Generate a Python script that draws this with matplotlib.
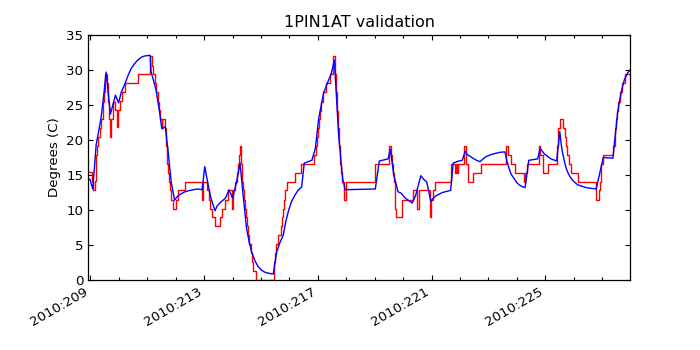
import matplotlib
matplotlib.use("Agg")
import matplotlib.pyplot as plt
from matplotlib.ticker import FixedLocator, MultipleLocator, FuncFormatter

# model (blue): day of year 2010, degrees C
model_days = [208.91, 208.98, 209.08, 209.20, 209.37, 209.47, 209.55, 209.70, 209.88, 209.99,
              210.08, 210.20, 210.32, 210.43, 210.55, 210.66, 210.78, 210.90, 211.00, 211.10,
              211.13, 211.31, 211.43, 211.51, 211.63, 211.72, 211.84, 211.96, 212.05, 212.14,
              212.32, 212.50, 212.78, 212.93, 213.02, 213.14, 213.23, 213.38, 213.46, 213.55,
              213.75, 213.87, 214.00, 214.14, 214.26, 214.37, 214.49, 214.58, 214.67, 214.78,
              214.90, 215.02, 215.14, 215.28, 215.43, 215.55, 215.66, 215.78, 215.87, 215.96,
              216.07, 216.19, 216.30, 216.43, 216.52, 216.79, 216.91, 217.03, 217.20, 217.38,
              217.46, 217.58, 217.73, 217.87, 217.96, 219.02, 219.16, 219.47, 219.55, 219.67,
              219.82, 219.93, 220.07, 220.32, 220.44, 220.62, 220.72, 220.83, 220.97, 221.14,
              221.38, 221.67, 221.76, 221.96, 222.08, 222.18, 222.26, 222.38, 222.53, 222.70,
              222.90, 223.08, 223.26, 223.42, 223.58, 223.65, 223.72, 223.80, 223.90, 224.00,
              224.08, 224.18, 224.29, 224.42, 224.73, 224.82, 224.97, 225.20, 225.40, 225.51,
              225.56, 225.61, 225.67, 225.73, 225.81, 225.91, 226.02, 226.14, 226.28, 226.44,
              226.60, 226.79, 227.04, 227.38, 227.43, 227.49, 227.54, 227.61, 227.69, 227.78,
              227.90, 228.02]
model_temp = [14.3, 14.4, 13.0, 19.3, 23.1, 26.5, 29.7, 23.7, 26.4, 25.3,
              26.8, 27.9, 29.2, 30.2, 30.9, 31.4, 31.8, 32.0, 32.05, 32.1,
              29.8, 27.1, 24.0, 21.6, 21.9, 18.8, 14.0, 11.4, 11.9, 12.2,
              12.6, 12.8, 13.0, 12.9, 16.2, 13.6, 11.8, 9.9, 10.6, 11.0,
              11.7, 12.9, 11.7, 14.0, 16.7, 12.1, 7.4, 5.5, 4.0, 2.8,
              1.9, 1.4, 1.1, 0.95, 0.86, 4.0, 5.3, 6.4, 8.3, 9.8,
              11.2, 12.1, 12.8, 13.3, 16.7, 17.1, 18.8, 23.1, 26.7, 28.6,
              29.3, 31.4, 20.7, 14.5, 12.9, 13.0, 17.0, 17.3, 18.7, 15.0,
              12.6, 12.4, 11.7, 11.0, 12.1, 14.9, 14.4, 14.0, 11.3, 12.0,
              12.5, 12.8, 16.7, 17.0, 17.1, 18.4, 17.9, 17.6, 17.2, 16.9,
              17.6, 17.9, 18.1, 18.25, 18.3, 17.0, 16.0, 15.1, 14.5, 13.9,
              13.6, 13.35, 13.2, 17.1, 17.3, 18.8, 18.0, 17.3, 17.0, 21.2,
              19.4, 18.1, 17.0, 16.0, 15.2, 14.5, 14.0, 13.6, 13.4, 13.2,
              13.1, 13.0, 17.5, 17.4, 19.5, 21.7, 23.8, 25.5, 27.2, 28.6,
              29.6, 30.2]

# telemetry (red), stepped
telem_days = [208.91, 209.05, 209.10, 209.15, 209.18, 209.20, 209.23, 209.28, 209.33, 209.37,
              209.43, 209.47, 209.51, 209.58, 209.61, 209.64, 209.68, 209.73, 209.79, 209.86,
              209.92, 209.97, 210.04, 210.11, 210.21, 210.68, 211.09, 211.15, 211.20, 211.26,
              211.31, 211.36, 211.40, 211.45, 211.50, 211.53, 211.62, 211.65, 211.69, 211.73,
              211.77, 211.81, 211.84, 211.90, 212.01, 212.07, 212.31, 212.91, 212.96, 213.09,
              213.16, 213.22, 213.29, 213.38, 213.55, 213.63, 213.73, 213.84, 213.98, 214.03,
              214.07, 214.14, 214.19, 214.22, 214.26, 214.30, 214.34, 214.37, 214.41, 214.43,
              214.47, 214.50, 214.54, 214.58, 214.63, 214.68, 214.72, 214.81, 215.46, 215.50,
              215.54, 215.59, 215.70, 215.75, 215.79, 215.82, 215.86, 215.91, 216.19, 216.40,
              216.85, 216.93, 216.97, 217.00, 217.04, 217.07, 217.12, 217.19, 217.28, 217.41,
              217.53, 217.60, 217.63, 217.67, 217.70, 217.74, 217.78, 217.82, 217.86, 217.93,
              217.98, 219.02, 219.51, 219.56, 219.60, 219.64, 219.68, 219.70, 219.72, 219.76,
              219.95, 220.36, 220.50, 220.54, 220.94, 220.99, 221.05, 221.12, 221.67, 221.82,
              221.86, 221.89, 221.94, 222.14, 222.20, 222.29, 222.46, 222.73, 223.61, 223.70,
              223.78, 223.93, 224.26, 224.30, 224.36, 224.77, 224.82, 224.91, 225.09, 225.40,
              225.45, 225.53, 225.64, 225.69, 225.73, 225.78, 225.84, 225.91, 226.14, 226.79,
              226.88, 226.93, 226.96, 227.03, 227.39, 227.46, 227.49, 227.53, 227.57, 227.63,
              227.70, 227.81, 228.02]
telem_temp = [15.4, 14.1, 12.9, 14.1, 16.6, 17.9, 19.1, 20.4, 21.7, 23.0,
              25.5, 26.8, 29.4, 28.1, 25.5, 23.0, 20.5, 23.0, 25.5, 24.3,
              21.9, 24.3, 25.6, 26.9, 28.1, 29.4, 32.0, 30.6, 29.4, 28.1,
              26.8, 25.5, 24.3, 23.0, 21.7, 23.0, 21.7, 19.1, 16.6, 15.3,
              14.0, 12.8, 11.5, 10.2, 11.5, 12.8, 14.0, 11.4, 14.0, 12.8,
              11.5, 10.2, 9.0, 7.7, 9.0, 10.2, 11.5, 12.8, 10.2, 12.8,
              14.0, 15.3, 16.6, 17.9, 19.2, 16.6, 14.0, 12.8, 11.5, 10.2,
              9.0, 7.7, 6.4, 5.1, 3.8, 2.6, 1.3, 0.0, 2.6, 3.8,
              5.1, 6.4, 7.7, 9.0, 10.2, 11.5, 12.8, 14.0, 15.3, 16.6,
              17.9, 19.1, 20.4, 21.7, 23.0, 24.2, 25.5, 26.8, 28.1, 29.4,
              32.0, 29.4, 26.8, 24.2, 21.7, 19.1, 16.6, 15.3, 14.0, 11.5,
              14.0, 16.6, 19.1, 17.9, 16.6, 15.3, 14.0, 12.8, 10.2, 9.0,
              11.4, 12.8, 10.2, 12.8, 9.0, 11.5, 12.8, 14.0, 16.6, 15.3,
              16.6, 15.3, 16.6, 19.1, 16.6, 14.0, 15.3, 16.6, 19.1, 17.9,
              16.6, 15.3, 14.0, 15.3, 16.6, 19.1, 17.9, 15.3, 16.6, 19.1,
              21.7, 23.0, 21.7, 20.4, 19.1, 17.9, 16.6, 15.3, 14.0, 11.5,
              12.8, 14.0, 16.6, 17.9, 19.1, 21.7, 23.0, 24.2, 25.5, 26.8,
              28.1, 29.4, 29.4]

major_days = [209, 213, 217, 221, 225]

fig = plt.figure(figsize=(7, 3.5), dpi=100, facecolor='white')
ax = fig.add_axes([0.126, 0.2, 0.774, 0.7])
ax.plot(telem_days, telem_temp, color='r', lw=1.0, drawstyle='steps-post')
ax.plot(model_days, model_temp, color='b', lw=1.0)

ax.set_xlim(208.92, 227.98)
ax.set_ylim(0, 35)
ax.xaxis.set_major_locator(FixedLocator(major_days))
ax.xaxis.set_minor_locator(MultipleLocator(1))
ax.xaxis.set_major_formatter(FuncFormatter(lambda d, pos: '2010:%03d' % round(d)))
ax.yaxis.set_major_locator(MultipleLocator(5))
ax.tick_params(which='both', direction='in', top=True, right=True, labelsize=9.6)
ax.tick_params(which='major', length=3.5, width=0.8)
ax.tick_params(which='minor', length=2, width=0.8)
for lab in ax.get_xticklabels():
    lab.set_rotation(30)
    lab.set_ha('right')
for sp in ax.spines.values():
    sp.set_linewidth(0.9)

ax.set_title('1PIN1AT validation', fontsize=11.5)
ax.set_ylabel('Degrees (C)', fontsize=9.6)

fig.savefig('out.png', dpi=100, facecolor='white')
